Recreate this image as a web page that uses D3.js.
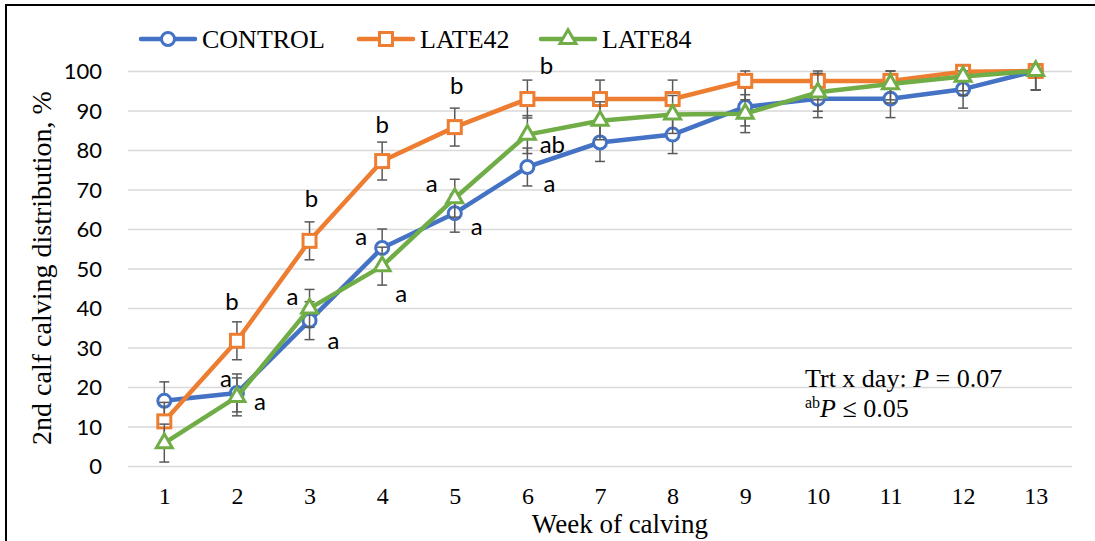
<!DOCTYPE html>
<html>
<head>
<meta charset="utf-8">
<script src="https://cdn.jsdelivr.net/npm/d3@7"></script>
<style>
  body { margin: 0; background: #fff; }
  svg { display: block; }
  .serif { font-family: "Liberation Serif", "Times New Roman", serif; fill: #000; }
  .sans { font-family: Lato, "Open Sans", sans-serif; fill: #000; }
</style>
</head>
<body>
<svg width="1095" height="541"></svg>
<script>
// weeks of calving
var weeks = [1, 2, 3, 4, 5, 6, 7, 8, 9, 10, 11, 12, 13];

// cumulative % calved by week
var control = [16.5, 18.5, 36.8, 55.2, 64.0, 75.7, 81.9, 83.9, 90.9, 93.0, 93.0, 95.4, 100];
var late42  = [11.3, 31.7, 57.0, 77.2, 85.8, 92.9, 92.9, 92.9, 97.5, 97.5, 97.5, 99.8, 100];
var late84  = [5.8, 17.5, 39.9, 50.6, 67.8, 83.9, 87.4, 89.0, 89.2, 94.6, 96.7, 98.6, 100];

// standard errors (bars are cut at 100 %)
var errControl = [4.8, 4.8, 4.8, 4.8, 4.8, 4.8, 4.8, 4.8, 4.8, 4.8, 4.8, 4.8, 4.8];
var errLate42  = [4.8, 4.8, 4.8, 4.8, 4.8, 4.8, 4.8, 4.8, 4.8, 4.8, 4.8, 4.8, 4.8];
var errLate84  = [4.8, 4.8, 4.8, 4.8, 4.8, 4.8, 4.8, 4.8, 4.8, 4.8, 4.8, 4.8, 4.8];

// significance letters by week
var sigControl = [[2, "a"], [3, "a"], [4, "a"], [5, "a"], [6, "a"]];
var sigLate42  = [[2, "b"], [3, "b"], [4, "b"], [5, "b"], [6, "b"]];
var sigLate84  = [[2, "a"], [3, "a"], [4, "a"], [5, "a"], [6, "ab"]];

var yTicks = [0, 10, 20, 30, 40, 50, 60, 70, 80, 90, 100];

var series = [
  { name: "CONTROL", values: control, err: errControl, sig: sigControl, color: "#4472C4", marker: "circle", legendX: 168 },
  { name: "LATE42",  values: late42,  err: errLate42,  sig: sigLate42,  color: "#ED7D31", marker: "square", legendX: 386 },
  { name: "LATE84",  values: late84,  err: errLate84,  sig: sigLate84,  color: "#70AD47", marker: "triangle", legendX: 568 }
];

// where each letter sits relative to its point
var sigOffset = {
  "CONTROL-2": [-11, -13], "CONTROL-3": [24, 21], "CONTROL-4": [-21, -10], "CONTROL-5": [22, 15], "CONTROL-6": [22, 18],
  "LATE42-2": [-5, -38], "LATE42-3": [2, -41], "LATE42-4": [0, -35], "LATE42-5": [2, -40], "LATE42-6": [19, -32],
  "LATE84-2": [23, 6], "LATE84-3": [-17, -11], "LATE84-4": [19, 29], "LATE84-5": [-23, -13], "LATE84-6": [25, 11]
};

var svg = d3.select("svg");

// frame
svg.append("rect")
  .attr("x", 6).attr("y", 5)
  .attr("width", 1200).attr("height", 600)
  .attr("fill", "none").attr("stroke", "#000").attr("stroke-width", 2);

var x = d3.scalePoint().domain(weeks).range([128, 1072]).padding(0.5);
var y = d3.scaleLinear().domain([0, 100]).range([466, 71]);

// y axis + gridlines
var yAxis = svg.append("g")
  .attr("transform", "translate(128,0)")
  .call(d3.axisLeft(y).tickValues(yTicks).tickSize(-944).tickPadding(26));
yAxis.select(".domain").remove();
yAxis.selectAll(".tick line").attr("stroke", "#d9d9d9").attr("stroke-width", 1.5);
yAxis.selectAll(".tick text")
  .attr("class", "sans").attr("font-size", 22).attr("dy", "0.36em");

// x axis
var xAxis = svg.append("g")
  .attr("transform", "translate(0,466)")
  .call(d3.axisBottom(x).tickSize(0).tickPadding(21));
xAxis.select(".domain").remove();
xAxis.selectAll(".tick text").attr("class", "serif").attr("font-size", 24);

// axis titles
svg.append("text").attr("class", "serif")
  .attr("x", 620).attr("y", 533)
  .attr("text-anchor", "middle").attr("font-size", 27)
  .text("Week of calving");

svg.append("text").attr("class", "serif")
  .attr("transform", "translate(51,268) rotate(-90)")
  .attr("text-anchor", "middle").attr("font-size", 28)
  .text("2nd calf calving distribution, %");

function drawMarker(g, type, color) {
  if (type === "circle") {
    g.append("circle").attr("r", 6.5);
  } else if (type === "square") {
    g.append("rect").attr("x", -6.5).attr("y", -6.5).attr("width", 13).attr("height", 13);
  } else {
    g.append("path").attr("d", d3.symbol().type(d3.symbolTriangle).size(110)());
  }
  g.selectAll("circle,rect,path")
    .attr("fill", "#fff").attr("stroke", color).attr("stroke-width", 3);
}

var line = d3.line()
  .x(function(d) { return x(d.w); })
  .y(function(d) { return y(d.v); });

series.forEach(function(s) {
  var pts = weeks.map(function(w, i) { return { w: w, v: s.values[i], e: s.err[i] }; });
  var g = svg.append("g");

  // error bars
  var eb = g.append("g").attr("stroke", "#595959").attr("stroke-width", 1.5);
  pts.forEach(function(d) {
    var hi = y(Math.min(100, d.v + d.e)), lo = y(d.v - d.e), cx = x(d.w);
    eb.append("line").attr("x1", cx).attr("x2", cx).attr("y1", hi).attr("y2", lo);
    eb.append("line").attr("x1", cx - 5).attr("x2", cx + 5).attr("y1", hi).attr("y2", hi);
    eb.append("line").attr("x1", cx - 5).attr("x2", cx + 5).attr("y1", lo).attr("y2", lo);
  });

  g.append("path").datum(pts)
    .attr("d", line)
    .attr("fill", "none").attr("stroke", s.color)
    .attr("stroke-width", 4.5).attr("stroke-linejoin", "round").attr("stroke-linecap", "round");

  pts.forEach(function(d) {
    drawMarker(g.append("g").attr("transform", "translate(" + x(d.w) + "," + y(d.v) + ")"), s.marker, s.color);
  });
});

// letters on top
series.forEach(function(s) {
  s.sig.forEach(function(l) {
    var i = weeks.indexOf(l[0]);
    var off = sigOffset[s.name + "-" + l[0]];
    svg.append("text").attr("class", "sans")
      .attr("x", x(l[0]) + off[0]).attr("y", y(s.values[i]) + off[1])
      .attr("dy", "0.3em").attr("text-anchor", "middle").attr("font-size", 24)
      .text(l[1]);
  });
});

// legend
series.forEach(function(s) {
  var lg = svg.append("g").attr("transform", "translate(" + s.legendX + ",39)");
  lg.append("line").attr("x1", -27).attr("x2", 27)
    .attr("stroke", s.color).attr("stroke-width", 4.5).attr("stroke-linecap", "round");
  drawMarker(lg.append("g"), s.marker, s.color);
  lg.append("text").attr("class", "serif")
    .attr("x", 34).attr("y", 9).attr("font-size", 26)
    .text(s.name);
});

// stats note
var note = svg.append("text").attr("class", "serif").attr("font-size", 26)
  .attr("x", 805).attr("y", 387);
note.append("tspan").text("Trt x day: ");
note.append("tspan").attr("font-style", "italic").text("P");
note.append("tspan").text(" = 0.07");

var note2 = svg.append("text").attr("class", "serif").attr("font-size", 26)
  .attr("x", 805).attr("y", 417);
note2.append("tspan").attr("font-size", 16).attr("dy", -9).text("ab");
note2.append("tspan").attr("font-style", "italic").attr("dy", 9).text("P");
note2.append("tspan").text(" \u2264 0.05");
</script>
</body>
</html>
